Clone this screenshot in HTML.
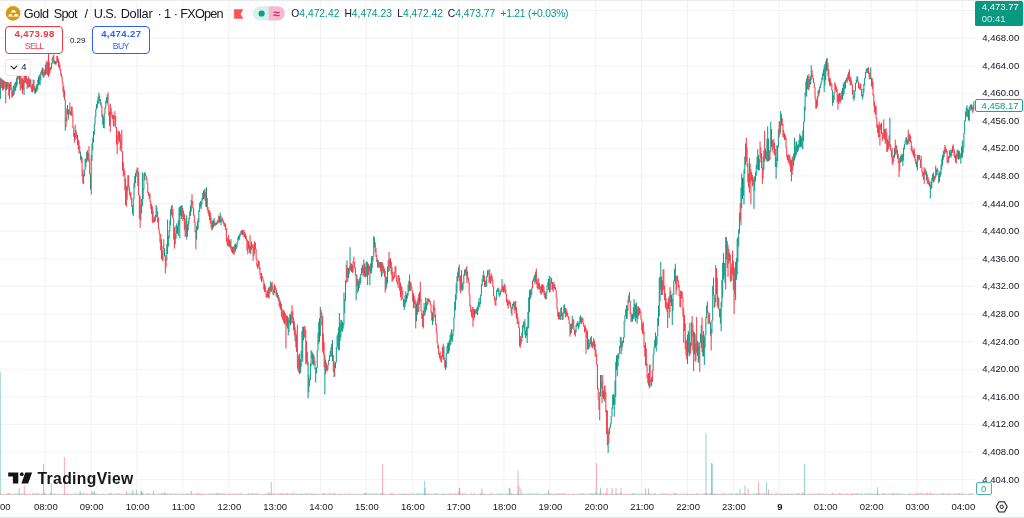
<!DOCTYPE html>
<html lang="en"><head><meta charset="utf-8"><title>Gold Spot / U.S. Dollar</title>
<style>
html,body{margin:0;padding:0;background:#fff}
body{width:1024px;height:518px;position:relative;overflow:hidden;font-family:"Liberation Sans",Arial,sans-serif;color:#131722;-webkit-font-smoothing:antialiased}
.chart{position:absolute;left:0;top:0}
.abs{position:absolute;white-space:nowrap}
.pl{position:absolute;left:975px;width:44.2px;text-align:right;font-size:9.5px;line-height:12px;height:12px;white-space:nowrap}
.tl{position:absolute;top:500.6px;width:40px;text-align:center;font-size:9.5px;line-height:12px;white-space:nowrap}
.tl.b{font-weight:bold}
.edge-t{position:absolute;left:0;top:0;width:1024px;height:1px;background:#e9eaed}
.edge-b{position:absolute;left:0;top:517px;width:1024px;height:1px;background:#e4e5e9}
.title{position:absolute;left:0;top:4.6px;width:240px;height:18px;font-size:12.7px;line-height:18px;white-space:nowrap;word-spacing:0}
.title span{position:absolute;top:0}
.ohlc{top:7.4px;font-size:10.3px;line-height:14px}
.g{color:#089981}
.box{position:absolute;top:26.3px;height:25.9px;border:1.2px solid;border-radius:4px;background:#fff;text-align:center}
.box b{display:block;font-size:9.5px;line-height:10px;margin-top:2.2px;letter-spacing:.4px;text-indent:.4px}
.box span{display:block;font-size:8.7px;line-height:10px;margin-top:1.1px;letter-spacing:-.7px;text-indent:-.7px}
.sell{left:5.3px;width:56.2px;border-color:#f23645;color:#f23645}
.buy{left:92px;width:56.2px;border-color:#2962ff;color:#2962ff}
.spread{left:69.9px;top:34.6px;font-size:8px;line-height:11px}
.coll{position:absolute;left:5.3px;top:59.4px;width:23.7px;height:14.9px;border:1px solid #e6e8ec;border-radius:3px;background:rgba(255,255,255,.92)}
.coll span{position:absolute;left:14.9px;top:.9px;font-size:9.5px;line-height:12px}
.ptag{position:absolute;left:975.4px;top:.5px;width:48px;height:25px;background:#089981;border-radius:1.6px;color:#fff;font-size:9.5px;line-height:11.4px}
.ptag div{position:absolute;left:6.4px}
.ltag{position:absolute;left:975.3px;top:98.9px;width:45.9px;height:11px;border:1.4px solid #1ea28b;border-radius:2px;background:#fff;color:#089981;font-size:9.5px;line-height:11px}
.ltag div{position:absolute;left:5.3px;top:0}
.vtag{position:absolute;left:975.6px;top:481.8px;width:14.2px;height:10.8px;border:1.2px solid #4db6a6;border-radius:2px;background:#fff;color:#26a69a;font-size:9.5px;line-height:11.6px;text-align:center}
.tv{left:37.5px;top:469px;font-size:15.7px;line-height:20px;font-weight:bold;color:#171717;letter-spacing:.36px}
#wrap{position:absolute;left:0;top:0;width:1024px;height:518px;overflow:hidden;filter:blur(.32px);background:#fff}
</style></head><body><div id="wrap">
<svg class="chart" width="1024" height="518" viewBox="0 0 1024 518">
<path d="M-0.68 0V494.3M45.19 0V494.3M91.07 0V494.3M136.94 0V494.3M182.82 0V494.3M228.70 0V494.3M274.57 0V494.3M320.45 0V494.3M366.32 0V494.3M412.20 0V494.3M458.08 0V494.3M503.95 0V494.3M549.83 0V494.3M595.70 0V494.3M641.58 0V494.3M687.46 0V494.3M733.33 0V494.3M779.21 0V494.3M825.08 0V494.3M870.96 0V494.3M916.84 0V494.3M962.71 0V494.3M0 10.51H974.5M0 38.10H974.5M0 65.69H974.5M0 93.28H974.5M0 120.87H974.5M0 148.46H974.5M0 176.05H974.5M0 203.64H974.5M0 231.23H974.5M0 258.82H974.5M0 286.41H974.5M0 314.00H974.5M0 341.59H974.5M0 369.18H974.5M0 396.77H974.5M0 424.36H974.5M0 451.95H974.5M0 479.54H974.5" stroke="#f3f3f4" stroke-width="1.1" fill="none"/>
<path d="M4.96 494.1V494.7M6.49 494.1V494.7M7.25 493.2V494.7M8.02 493.8V494.7M10.31 494.0V494.7M11.83 494.1V494.7M14.12 494.1V494.7M16.42 493.7V494.7M17.94 493.5V494.7M18.71 494.1V494.7M19.47 493.8V494.7M20.23 493.5V494.7M21.76 493.7V494.7M22.52 493.5V494.7M23.29 494.1V494.7M25.58 494.0V494.7M31.69 494.1V494.7M33.98 493.8V494.7M36.27 492.8V494.7M40.08 494.1V494.7M41.61 493.7V494.7M43.14 493.7V494.7M44.66 493.5V494.7M46.19 493.5V494.7M48.48 493.8V494.7M49.25 494.1V494.7M50.01 493.5V494.7M51.54 493.7V494.7M52.30 494.1V494.7M53.06 494.1V494.7M53.83 493.7V494.7M55.35 493.8V494.7M56.12 493.9V494.7M56.88 494.0V494.7M59.17 494.0V494.7M61.46 494.1V494.7M62.23 493.7V494.7M62.99 494.1V494.7M63.75 494.1V494.7M65.28 493.9V494.7M67.57 493.5V494.7M69.10 494.0V494.7M69.86 494.1V494.7M72.15 494.1V494.7M72.91 493.9V494.7M73.68 493.8V494.7M75.20 494.1V494.7M75.97 492.7V494.7M76.73 494.0V494.7M77.50 493.8V494.7M78.26 494.1V494.7M79.02 493.5V494.7M79.79 493.8V494.7M80.55 493.0V494.7M81.31 493.9V494.7M82.08 493.9V494.7M82.84 492.8V494.7M83.60 493.5V494.7M91.24 493.5V494.7M92.00 493.5V494.7M92.77 494.1V494.7M93.53 492.7V494.7M95.06 493.5V494.7M95.82 493.8V494.7M98.11 494.0V494.7M100.40 494.1V494.7M101.93 494.0V494.7M103.45 493.8V494.7M104.22 493.8V494.7M104.98 494.1V494.7M107.27 494.0V494.7M109.56 493.5V494.7M110.33 493.1V494.7M111.09 493.3V494.7M112.62 494.0V494.7M116.43 493.2V494.7M117.20 493.7V494.7M118.72 493.7V494.7M120.25 493.8V494.7M121.01 494.1V494.7M127.89 494.1V494.7M130.18 492.9V494.7M130.94 493.8V494.7M131.70 493.5V494.7M132.47 494.0V494.7M133.99 493.5V494.7M137.05 493.7V494.7M138.58 493.9V494.7M139.34 494.0V494.7M140.10 494.0V494.7M141.63 494.1V494.7M142.39 492.6V494.7M143.16 493.7V494.7M143.92 493.5V494.7M145.45 493.9V494.7M146.97 493.5V494.7M147.74 494.0V494.7M148.50 493.0V494.7M149.26 493.5V494.7M150.03 494.1V494.7M150.79 493.8V494.7M153.85 493.8V494.7M154.61 493.7V494.7M155.37 493.8V494.7M156.90 494.1V494.7M159.19 494.0V494.7M160.72 494.1V494.7M162.24 492.8V494.7M163.01 493.5V494.7M163.77 493.9V494.7M164.53 493.7V494.7M166.06 494.0V494.7M167.59 493.5V494.7M168.35 494.1V494.7M169.12 493.8V494.7M171.41 493.5V494.7M173.70 493.9V494.7M174.46 493.7V494.7M175.22 493.7V494.7M176.75 494.1V494.7M179.04 493.7V494.7M180.57 493.8V494.7M182.09 494.0V494.7M182.86 494.1V494.7M185.15 493.8V494.7M187.44 494.0V494.7M188.20 493.5V494.7M188.97 493.9V494.7M191.26 493.7V494.7M192.78 493.9V494.7M194.31 493.7V494.7M195.84 493.5V494.7M201.18 494.1V494.7M206.53 494.1V494.7M208.05 493.9V494.7M208.82 493.5V494.7M209.58 493.5V494.7M210.34 493.8V494.7M211.11 493.7V494.7M214.16 494.1V494.7M214.93 493.5V494.7M215.69 493.7V494.7M216.45 492.8V494.7M217.98 493.5V494.7M218.74 493.3V494.7M219.51 493.5V494.7M221.80 493.1V494.7M222.56 493.8V494.7M227.90 494.1V494.7M230.96 493.5V494.7M232.49 493.9V494.7M233.25 493.5V494.7M236.30 493.7V494.7M239.36 493.7V494.7M240.12 493.0V494.7M241.65 493.8V494.7M242.41 493.7V494.7M243.94 493.8V494.7M244.70 493.9V494.7M245.47 494.1V494.7M247.76 493.7V494.7M248.52 493.0V494.7M250.81 493.1V494.7M252.34 493.5V494.7M253.86 493.5V494.7M256.92 493.5V494.7M258.44 493.5V494.7M259.97 494.0V494.7M261.50 493.8V494.7M262.26 494.1V494.7M263.79 493.9V494.7M266.84 493.9V494.7M267.61 493.5V494.7M268.37 494.0V494.7M269.13 494.0V494.7M269.90 493.8V494.7M272.95 494.0V494.7M273.71 493.5V494.7M275.24 493.9V494.7M276.01 494.1V494.7M277.53 494.0V494.7M279.82 493.8V494.7M281.35 492.8V494.7M282.88 493.5V494.7M285.17 493.8V494.7M285.93 493.5V494.7M287.46 493.0V494.7M288.22 493.8V494.7M290.51 493.9V494.7M291.28 493.7V494.7M293.57 493.8V494.7M296.62 493.7V494.7M297.38 493.7V494.7M298.15 494.1V494.7M298.91 494.1V494.7M299.67 493.7V494.7M300.44 493.7V494.7M302.73 493.8V494.7M303.49 493.9V494.7M304.25 493.9V494.7M305.02 493.5V494.7M305.78 493.9V494.7M308.07 493.9V494.7M309.60 494.1V494.7M310.36 493.5V494.7M313.42 493.8V494.7M314.18 494.1V494.7M314.94 493.5V494.7M315.71 493.7V494.7M317.23 493.9V494.7M318.00 494.0V494.7M318.76 493.9V494.7M321.05 493.8V494.7M322.58 493.5V494.7M324.11 492.7V494.7M324.87 493.7V494.7M327.92 494.0V494.7M330.98 494.1V494.7M331.74 493.9V494.7M333.27 493.5V494.7M334.03 492.9V494.7M334.79 494.0V494.7M336.32 494.1V494.7M340.14 493.8V494.7M342.43 494.0V494.7M345.48 493.8V494.7M347.01 493.8V494.7M348.54 493.5V494.7M350.06 493.5V494.7M351.59 493.9V494.7M352.36 494.0V494.7M353.12 494.1V494.7M353.88 493.7V494.7M355.41 494.1V494.7M356.17 494.1V494.7M357.70 493.7V494.7M358.46 494.1V494.7M359.23 494.1V494.7M360.75 494.1V494.7M361.52 494.1V494.7M362.28 493.9V494.7M363.04 493.8V494.7M363.81 493.9V494.7M365.33 492.9V494.7M366.86 494.1V494.7M367.63 494.1V494.7M368.39 493.5V494.7M369.92 493.5V494.7M370.68 493.8V494.7M371.44 493.8V494.7M372.97 493.1V494.7M373.73 494.0V494.7M374.50 493.8V494.7M376.02 492.7V494.7M376.79 493.8V494.7M379.08 493.8V494.7M379.84 493.8V494.7M380.60 493.5V494.7M382.13 494.1V494.7M382.90 494.1V494.7M383.66 493.2V494.7M385.19 493.8V494.7M388.24 493.8V494.7M389.00 494.0V494.7M391.29 493.7V494.7M393.58 493.9V494.7M395.87 494.1V494.7M396.64 494.0V494.7M399.69 493.9V494.7M400.46 493.9V494.7M401.98 493.5V494.7M405.04 493.5V494.7M405.80 493.9V494.7M408.09 493.9V494.7M409.62 493.9V494.7M411.91 493.8V494.7M412.67 493.5V494.7M413.44 493.9V494.7M414.20 494.0V494.7M414.96 494.1V494.7M416.49 493.9V494.7M418.02 493.1V494.7M418.78 493.5V494.7M419.54 493.9V494.7M420.31 493.5V494.7M421.83 494.1V494.7M422.60 494.0V494.7M424.12 493.7V494.7M424.89 493.7V494.7M425.65 494.0V494.7M427.18 494.0V494.7M428.71 493.7V494.7M430.23 493.9V494.7M431.76 493.8V494.7M434.81 493.5V494.7M435.58 493.3V494.7M436.34 494.1V494.7M437.10 493.3V494.7M437.87 493.8V494.7M438.63 493.7V494.7M440.16 493.9V494.7M442.45 493.9V494.7M443.21 493.5V494.7M444.74 494.0V494.7M445.50 493.9V494.7M446.27 493.9V494.7M447.03 493.5V494.7M447.79 493.9V494.7M448.56 493.5V494.7M450.08 493.8V494.7M455.43 493.7V494.7M456.19 493.7V494.7M460.01 493.9V494.7M461.54 494.1V494.7M463.06 492.8V494.7M466.12 493.7V494.7M467.64 494.1V494.7M468.41 494.1V494.7M469.17 494.1V494.7M469.93 493.9V494.7M472.99 494.0V494.7M473.75 492.9V494.7M474.52 494.0V494.7M477.57 494.0V494.7M478.33 494.1V494.7M479.10 493.9V494.7M479.86 493.8V494.7M481.39 493.8V494.7M483.68 494.0V494.7M485.97 493.9V494.7M486.73 493.9V494.7M487.49 494.0V494.7M488.26 493.9V494.7M491.31 493.5V494.7M492.84 494.1V494.7M493.60 494.0V494.7M494.37 493.8V494.7M495.89 494.0V494.7M497.42 494.1V494.7M498.18 493.2V494.7M498.95 493.7V494.7M500.47 493.7V494.7M501.24 494.1V494.7M502.00 493.5V494.7M503.53 494.1V494.7M504.29 494.1V494.7M505.06 493.9V494.7M505.82 493.8V494.7M506.58 493.8V494.7M507.35 493.5V494.7M508.11 494.1V494.7M509.64 494.0V494.7M510.40 493.8V494.7M511.16 493.1V494.7M513.45 493.8V494.7M514.22 493.8V494.7M514.98 494.0V494.7M516.51 494.1V494.7M518.03 493.5V494.7M518.80 494.0V494.7M519.56 493.9V494.7M520.33 494.0V494.7M522.62 494.0V494.7M523.38 493.5V494.7M524.14 493.9V494.7M524.91 494.0V494.7M527.20 493.7V494.7M528.72 493.8V494.7M529.49 493.1V494.7M530.25 494.0V494.7M531.01 493.8V494.7M532.54 493.5V494.7M533.30 494.0V494.7M534.07 493.7V494.7M534.83 493.7V494.7M536.36 493.7V494.7M537.12 493.7V494.7M538.65 494.1V494.7M539.41 493.8V494.7M540.94 493.8V494.7M541.70 493.7V494.7M543.23 494.1V494.7M543.99 493.8V494.7M546.28 493.5V494.7M547.05 494.1V494.7M547.81 493.5V494.7M549.34 493.7V494.7M550.10 493.7V494.7M551.63 493.7V494.7M552.39 494.1V494.7M557.74 493.7V494.7M558.50 493.5V494.7M564.61 493.5V494.7M566.90 493.7V494.7M569.95 493.9V494.7M571.48 494.0V494.7M572.24 493.7V494.7M573.77 493.7V494.7M575.30 494.1V494.7M576.82 493.8V494.7M578.35 494.0V494.7M579.11 493.7V494.7M580.64 493.8V494.7M583.70 493.5V494.7M584.46 493.8V494.7M585.22 493.9V494.7M588.28 493.9V494.7M589.04 493.7V494.7M590.57 493.2V494.7M591.33 493.7V494.7M592.09 493.7V494.7M592.86 493.7V494.7M594.38 494.0V494.7M595.15 493.5V494.7M595.91 492.6V494.7M597.44 494.1V494.7M598.20 493.8V494.7M598.97 493.5V494.7M600.49 493.7V494.7M601.26 493.5V494.7M603.55 493.2V494.7M608.89 494.1V494.7M609.65 493.5V494.7M610.42 494.1V494.7M611.18 493.9V494.7M613.47 494.0V494.7M614.24 494.1V494.7M615.00 493.7V494.7M617.29 493.8V494.7M618.82 493.5V494.7M619.58 493.7V494.7M620.34 493.5V494.7M621.11 493.5V494.7M622.63 493.9V494.7M625.69 494.1V494.7M627.22 493.8V494.7M629.51 494.1V494.7M631.03 493.5V494.7M631.80 494.0V494.7M632.56 493.0V494.7M634.09 494.1V494.7M634.85 492.8V494.7M635.61 493.9V494.7M637.90 494.0V494.7M638.67 493.5V494.7M639.43 493.8V494.7M640.19 493.7V494.7M641.72 493.5V494.7M643.25 493.9V494.7M644.01 493.5V494.7M644.78 494.0V494.7M647.07 493.5V494.7M649.36 493.8V494.7M650.88 493.7V494.7M651.65 493.8V494.7M653.17 493.9V494.7M656.23 493.9V494.7M658.52 494.1V494.7M659.28 493.9V494.7M661.57 493.7V494.7M662.34 493.8V494.7M663.10 493.7V494.7M664.63 494.1V494.7M669.21 494.0V494.7M671.50 494.1V494.7M673.79 493.5V494.7M675.32 493.9V494.7M676.08 492.8V494.7M676.84 493.7V494.7M677.61 494.0V494.7M679.13 493.9V494.7M679.90 493.7V494.7M681.42 493.8V494.7M682.19 493.5V494.7M682.95 493.7V494.7M683.71 494.1V494.7M685.24 493.5V494.7M686.00 494.0V494.7M690.59 493.7V494.7M691.35 493.7V494.7M692.11 493.9V494.7M693.64 493.9V494.7M694.40 494.0V494.7M698.98 494.0V494.7M700.51 494.1V494.7M701.27 493.9V494.7M702.04 493.9V494.7M705.86 493.1V494.7M706.62 493.5V494.7M708.15 493.7V494.7M711.20 493.7V494.7M711.96 493.5V494.7M714.25 493.5V494.7M715.02 493.9V494.7M715.78 493.5V494.7M716.54 494.0V494.7M717.31 493.8V494.7M718.84 493.9V494.7M724.18 493.8V494.7M725.71 493.8V494.7M726.47 494.1V494.7M727.23 493.8V494.7M729.52 494.0V494.7M730.29 493.9V494.7M731.05 493.1V494.7M732.58 494.0V494.7M734.11 493.5V494.7M736.40 493.5V494.7M737.16 493.7V494.7M738.69 493.9V494.7M739.45 494.1V494.7M740.98 493.8V494.7M743.27 494.0V494.7M745.56 493.7V494.7M746.32 494.0V494.7M747.08 494.0V494.7M748.61 494.0V494.7M749.38 494.1V494.7M751.67 494.1V494.7M752.43 493.8V494.7M753.96 493.8V494.7M754.72 494.1V494.7M755.48 493.7V494.7M757.01 493.2V494.7M757.77 493.9V494.7M758.54 494.0V494.7M760.06 493.5V494.7M762.35 494.0V494.7M763.88 493.3V494.7M766.17 493.7V494.7M768.46 494.1V494.7M769.23 493.8V494.7M769.99 493.7V494.7M770.75 493.8V494.7M771.52 493.7V494.7M772.28 493.5V494.7M776.10 492.7V494.7M776.86 493.8V494.7M777.62 493.8V494.7M779.15 493.9V494.7M781.44 494.0V494.7M782.97 493.7V494.7M783.73 494.1V494.7M785.26 494.0V494.7M786.02 493.9V494.7M788.31 493.7V494.7M789.08 493.7V494.7M789.84 494.1V494.7M790.60 494.0V494.7M791.37 493.7V494.7M794.42 493.7V494.7M795.95 494.0V494.7M797.48 493.3V494.7M798.24 493.5V494.7M802.82 492.8V494.7M803.58 493.5V494.7M804.35 493.9V494.7M808.93 494.1V494.7M809.69 493.7V494.7M810.46 493.8V494.7M812.75 494.1V494.7M813.51 493.7V494.7M815.80 493.9V494.7M817.33 493.7V494.7M818.09 493.5V494.7M818.85 493.2V494.7M821.14 494.0V494.7M821.91 493.7V494.7M822.67 493.5V494.7M823.43 494.0V494.7M825.73 494.0V494.7M828.78 494.0V494.7M829.54 493.8V494.7M831.07 493.8V494.7M831.83 493.7V494.7M835.65 493.8V494.7M837.18 493.9V494.7M840.23 493.9V494.7M841.00 493.5V494.7M843.29 493.9V494.7M845.58 493.8V494.7M846.34 493.7V494.7M850.16 494.0V494.7M853.21 493.7V494.7M853.97 493.9V494.7M856.27 493.4V494.7M857.03 493.7V494.7M860.08 494.1V494.7M860.85 493.8V494.7M861.61 492.9V494.7M862.37 494.1V494.7M863.14 494.0V494.7M863.90 494.1V494.7M866.19 493.5V494.7M866.95 493.8V494.7M868.48 492.9V494.7M869.24 494.0V494.7M870.01 493.9V494.7M870.77 493.8V494.7M871.54 493.7V494.7M873.06 494.0V494.7M873.83 493.9V494.7M874.59 493.7V494.7M877.64 493.3V494.7M878.41 493.9V494.7M879.17 493.9V494.7M879.93 493.9V494.7M881.46 494.1V494.7M882.22 493.1V494.7M882.99 494.1V494.7M884.51 494.1V494.7M887.57 494.1V494.7M888.33 493.9V494.7M889.10 493.7V494.7M890.62 493.9V494.7M891.39 493.9V494.7M894.44 493.7V494.7M896.73 494.0V494.7M898.26 493.8V494.7M899.02 493.7V494.7M899.78 493.5V494.7M900.55 494.0V494.7M903.60 494.1V494.7M904.37 493.7V494.7M905.89 494.0V494.7M906.66 494.1V494.7M908.95 493.8V494.7M909.71 493.5V494.7M910.47 493.8V494.7M915.82 493.0V494.7M919.64 494.0V494.7M920.40 493.3V494.7M921.16 493.5V494.7M921.93 492.7V494.7M922.69 493.7V494.7M925.74 493.7V494.7M928.03 494.1V494.7M931.85 493.5V494.7M933.38 493.5V494.7M934.14 493.7V494.7M934.91 493.9V494.7M937.20 493.5V494.7M938.72 494.1V494.7M940.25 494.0V494.7M941.01 493.5V494.7M941.78 493.7V494.7M945.59 494.1V494.7M947.12 493.5V494.7M947.89 494.0V494.7M948.65 493.5V494.7M949.41 493.2V494.7M950.94 493.7V494.7M951.70 494.1V494.7M953.99 493.5V494.7M954.76 493.7V494.7M955.52 493.8V494.7M957.05 494.0V494.7M958.57 494.0V494.7M960.10 493.7V494.7M962.39 493.5V494.7M963.16 493.8V494.7M963.92 493.9V494.7M965.45 493.9V494.7M966.21 493.9V494.7M968.50 493.8V494.7M970.03 493.7V494.7M970.79 493.4V494.7M973.84 493.9V494.7M0.30 371.6V494.7M19.20 488.0V494.7M43.60 463.9V494.7M51.30 483.4V494.7M92.00 491.0V494.7M94.50 491.3V494.7M126.80 490.8V494.7M132.80 490.0V494.7M136.30 490.0V494.7M141.80 491.0V494.7M153.50 491.0V494.7M191.30 490.8V494.7M271.30 482.0V494.7M424.40 481.0V494.7M425.30 488.0V494.7M459.20 488.0V494.7M481.80 488.4V494.7M509.90 487.7V494.7M521.00 488.4V494.7M548.60 490.0V494.7M600.50 487.7V494.7M648.60 488.4V494.7M706.00 432.9V494.7M712.30 463.5V494.7M740.00 489.0V494.7M745.00 485.6V494.7M766.60 481.7V494.7M804.50 463.7V494.7" stroke="#089981" stroke-opacity=".5" stroke-width=".85" fill="none"/>
<path d="M0.38 494.1V494.7M1.15 493.5V494.7M1.91 494.0V494.7M2.67 493.8V494.7M3.44 493.8V494.7M4.20 494.0V494.7M5.73 494.0V494.7M8.78 493.2V494.7M9.54 492.9V494.7M11.07 494.1V494.7M12.60 494.0V494.7M13.36 493.7V494.7M14.89 493.5V494.7M15.65 493.7V494.7M17.18 493.7V494.7M21.00 494.1V494.7M24.05 493.9V494.7M24.81 493.7V494.7M26.34 494.1V494.7M27.10 494.0V494.7M27.87 493.8V494.7M28.63 494.0V494.7M29.39 494.1V494.7M30.16 493.5V494.7M30.92 494.0V494.7M32.45 493.0V494.7M33.21 493.9V494.7M34.74 493.5V494.7M35.50 493.7V494.7M37.03 493.8V494.7M37.79 493.7V494.7M38.56 493.1V494.7M39.32 493.9V494.7M40.85 493.8V494.7M42.37 494.0V494.7M43.90 492.7V494.7M45.43 493.9V494.7M46.96 494.0V494.7M47.72 494.0V494.7M50.77 492.9V494.7M54.59 493.7V494.7M57.64 494.1V494.7M58.41 493.9V494.7M59.93 493.9V494.7M60.70 494.1V494.7M64.52 493.7V494.7M66.04 494.0V494.7M66.81 493.7V494.7M68.33 493.7V494.7M70.62 494.0V494.7M71.39 494.0V494.7M74.44 493.7V494.7M84.37 493.5V494.7M85.13 493.5V494.7M85.89 494.0V494.7M86.66 493.7V494.7M87.42 493.5V494.7M88.18 494.0V494.7M88.95 494.0V494.7M89.71 493.9V494.7M90.47 493.9V494.7M94.29 494.0V494.7M96.58 493.7V494.7M97.35 493.5V494.7M98.87 493.9V494.7M99.64 494.0V494.7M101.16 493.5V494.7M102.69 494.0V494.7M105.74 494.0V494.7M106.51 493.9V494.7M108.04 493.8V494.7M108.80 493.7V494.7M111.85 493.9V494.7M113.38 493.9V494.7M114.14 493.7V494.7M114.91 493.8V494.7M115.67 493.9V494.7M117.96 493.9V494.7M119.49 493.5V494.7M121.78 493.5V494.7M122.54 493.8V494.7M123.31 494.0V494.7M124.07 494.0V494.7M124.83 494.0V494.7M125.60 493.5V494.7M126.36 493.8V494.7M127.12 494.0V494.7M128.65 493.8V494.7M129.41 493.8V494.7M133.23 493.5V494.7M134.76 493.7V494.7M135.52 493.9V494.7M136.28 494.1V494.7M137.81 493.7V494.7M140.87 493.5V494.7M144.68 494.1V494.7M146.21 493.5V494.7M151.55 494.0V494.7M152.32 493.8V494.7M153.08 494.1V494.7M156.14 493.8V494.7M157.66 494.0V494.7M158.43 493.5V494.7M159.95 493.5V494.7M161.48 493.5V494.7M165.30 493.5V494.7M166.82 493.5V494.7M169.88 493.5V494.7M170.64 493.8V494.7M172.17 493.5V494.7M172.93 494.1V494.7M175.99 493.5V494.7M177.51 493.5V494.7M178.28 493.9V494.7M179.80 494.0V494.7M181.33 493.8V494.7M183.62 493.5V494.7M184.39 494.0V494.7M185.91 494.0V494.7M186.68 493.0V494.7M189.73 493.9V494.7M190.49 494.1V494.7M192.02 493.9V494.7M193.55 493.9V494.7M195.07 494.1V494.7M196.60 493.7V494.7M197.36 493.5V494.7M198.13 492.8V494.7M198.89 493.9V494.7M199.66 493.8V494.7M200.42 493.7V494.7M201.95 493.9V494.7M202.71 493.5V494.7M203.47 494.1V494.7M204.24 493.8V494.7M205.00 493.8V494.7M205.76 494.0V494.7M207.29 494.1V494.7M211.87 493.5V494.7M212.63 493.9V494.7M213.40 493.7V494.7M217.22 493.4V494.7M220.27 493.5V494.7M221.03 493.9V494.7M223.32 493.9V494.7M224.09 493.0V494.7M224.85 494.0V494.7M225.61 493.7V494.7M226.38 494.1V494.7M227.14 494.1V494.7M228.67 493.7V494.7M229.43 493.5V494.7M230.20 494.0V494.7M231.72 494.0V494.7M234.01 494.1V494.7M234.78 493.3V494.7M235.54 494.0V494.7M237.07 493.7V494.7M237.83 493.8V494.7M238.59 493.9V494.7M240.88 493.7V494.7M243.17 494.0V494.7M246.23 494.1V494.7M246.99 493.8V494.7M249.28 494.0V494.7M250.05 493.9V494.7M251.57 493.9V494.7M253.10 493.7V494.7M254.63 493.5V494.7M255.39 493.8V494.7M256.15 493.5V494.7M257.68 493.8V494.7M259.21 494.0V494.7M260.74 494.1V494.7M263.03 493.9V494.7M264.55 493.7V494.7M265.32 493.9V494.7M266.08 493.5V494.7M270.66 493.5V494.7M271.42 494.0V494.7M272.19 493.3V494.7M274.48 493.5V494.7M276.77 493.5V494.7M278.30 493.9V494.7M279.06 493.1V494.7M280.59 493.8V494.7M282.11 494.0V494.7M283.64 493.5V494.7M284.40 493.7V494.7M286.69 494.0V494.7M288.98 493.7V494.7M289.75 493.7V494.7M292.04 493.9V494.7M292.80 492.7V494.7M294.33 493.2V494.7M295.09 494.1V494.7M295.86 493.9V494.7M301.20 493.3V494.7M301.96 493.9V494.7M306.55 493.7V494.7M307.31 493.1V494.7M308.84 493.8V494.7M311.13 493.7V494.7M311.89 493.1V494.7M312.65 493.9V494.7M316.47 494.1V494.7M319.52 494.0V494.7M320.29 494.1V494.7M321.82 493.8V494.7M323.34 493.8V494.7M325.63 494.0V494.7M326.40 493.9V494.7M327.16 493.8V494.7M328.69 493.8V494.7M329.45 493.3V494.7M330.21 493.1V494.7M332.50 493.5V494.7M335.56 493.2V494.7M337.09 493.7V494.7M337.85 494.0V494.7M338.61 494.1V494.7M339.38 493.5V494.7M340.90 493.7V494.7M341.67 493.9V494.7M343.19 494.0V494.7M343.96 494.0V494.7M344.72 493.5V494.7M346.25 494.1V494.7M347.77 493.9V494.7M349.30 494.1V494.7M350.83 493.9V494.7M354.65 493.8V494.7M356.94 494.0V494.7M359.99 494.1V494.7M364.57 493.3V494.7M366.10 492.8V494.7M369.15 494.0V494.7M372.21 493.7V494.7M375.26 494.1V494.7M377.55 493.8V494.7M378.31 494.1V494.7M381.37 492.8V494.7M384.42 493.8V494.7M385.95 494.1V494.7M386.71 494.0V494.7M387.48 493.9V494.7M389.77 493.9V494.7M390.53 493.5V494.7M392.06 492.8V494.7M392.82 493.9V494.7M394.35 493.7V494.7M395.11 493.9V494.7M397.40 494.1V494.7M398.17 493.9V494.7M398.93 493.7V494.7M401.22 494.0V494.7M402.75 493.9V494.7M403.51 494.0V494.7M404.27 493.5V494.7M406.56 493.7V494.7M407.33 493.9V494.7M408.85 493.5V494.7M410.38 494.1V494.7M411.14 493.8V494.7M415.73 493.9V494.7M417.25 493.7V494.7M421.07 493.5V494.7M423.36 493.7V494.7M426.41 493.8V494.7M427.94 493.2V494.7M429.47 493.7V494.7M431.00 493.8V494.7M432.52 494.0V494.7M433.29 493.7V494.7M434.05 494.1V494.7M439.39 494.1V494.7M440.92 494.0V494.7M441.68 493.9V494.7M443.98 493.5V494.7M449.32 493.9V494.7M450.85 492.9V494.7M451.61 493.8V494.7M452.37 494.1V494.7M453.14 493.9V494.7M453.90 493.5V494.7M454.66 493.7V494.7M456.95 493.9V494.7M457.72 493.7V494.7M458.48 492.7V494.7M459.25 493.9V494.7M460.77 494.0V494.7M462.30 493.7V494.7M463.83 494.0V494.7M464.59 493.4V494.7M465.35 494.1V494.7M466.88 493.9V494.7M470.70 494.1V494.7M471.46 493.0V494.7M472.22 494.1V494.7M475.28 493.8V494.7M476.04 494.0V494.7M476.81 493.9V494.7M480.62 493.5V494.7M482.15 493.5V494.7M482.91 493.3V494.7M484.44 494.0V494.7M485.20 493.7V494.7M489.02 493.7V494.7M489.79 494.0V494.7M490.55 493.5V494.7M492.08 493.5V494.7M495.13 494.0V494.7M496.66 493.8V494.7M499.71 493.9V494.7M502.76 493.9V494.7M508.87 493.8V494.7M511.93 493.7V494.7M512.69 493.7V494.7M515.74 494.0V494.7M517.27 493.8V494.7M521.09 494.1V494.7M521.85 493.8V494.7M525.67 494.1V494.7M526.43 493.5V494.7M527.96 493.8V494.7M531.78 493.9V494.7M535.60 493.9V494.7M537.89 493.2V494.7M540.18 494.1V494.7M542.47 494.1V494.7M544.76 493.9V494.7M545.52 493.5V494.7M548.57 493.9V494.7M550.87 493.5V494.7M553.16 493.9V494.7M553.92 493.8V494.7M554.68 493.7V494.7M555.45 493.8V494.7M556.21 493.7V494.7M556.97 493.7V494.7M559.26 493.7V494.7M560.03 494.0V494.7M560.79 493.5V494.7M561.55 493.5V494.7M562.32 494.1V494.7M563.08 493.1V494.7M563.84 493.5V494.7M565.37 493.8V494.7M566.14 494.0V494.7M567.66 494.0V494.7M568.43 493.7V494.7M569.19 493.9V494.7M570.72 494.0V494.7M573.01 494.1V494.7M574.53 493.9V494.7M576.06 494.1V494.7M577.59 493.8V494.7M579.88 493.7V494.7M581.41 493.1V494.7M582.17 494.1V494.7M582.93 493.5V494.7M585.99 494.1V494.7M586.75 493.5V494.7M587.51 494.0V494.7M589.80 493.5V494.7M593.62 493.5V494.7M596.68 493.5V494.7M599.73 493.1V494.7M602.02 493.5V494.7M602.78 494.1V494.7M604.31 494.1V494.7M605.07 493.8V494.7M605.84 492.7V494.7M606.60 494.1V494.7M607.36 493.8V494.7M608.13 493.7V494.7M611.95 493.5V494.7M612.71 494.1V494.7M615.76 494.0V494.7M616.53 493.7V494.7M618.05 493.5V494.7M621.87 494.1V494.7M623.40 494.0V494.7M624.16 493.7V494.7M624.92 494.0V494.7M626.45 493.8V494.7M627.98 493.9V494.7M628.74 493.9V494.7M630.27 493.8V494.7M633.32 493.8V494.7M636.38 493.8V494.7M637.14 493.9V494.7M640.96 493.9V494.7M642.49 494.0V494.7M645.54 493.8V494.7M646.30 494.1V494.7M647.83 493.8V494.7M648.59 493.8V494.7M650.12 493.8V494.7M652.41 493.9V494.7M653.94 493.5V494.7M654.70 493.7V494.7M655.46 493.0V494.7M656.99 494.0V494.7M657.76 494.0V494.7M660.05 493.5V494.7M660.81 493.8V494.7M663.86 493.3V494.7M665.39 493.4V494.7M666.15 493.9V494.7M666.92 493.8V494.7M667.68 493.8V494.7M668.44 493.5V494.7M669.97 493.9V494.7M670.73 493.8V494.7M672.26 494.1V494.7M673.03 493.8V494.7M674.55 492.9V494.7M678.37 494.1V494.7M680.66 494.0V494.7M684.48 494.1V494.7M686.77 494.0V494.7M687.53 493.5V494.7M688.30 494.0V494.7M689.06 493.8V494.7M689.82 493.9V494.7M692.88 493.8V494.7M695.17 493.9V494.7M695.93 493.9V494.7M696.69 493.1V494.7M697.46 494.1V494.7M698.22 493.5V494.7M699.75 493.7V494.7M702.80 494.0V494.7M703.57 493.5V494.7M704.33 493.9V494.7M705.09 493.5V494.7M707.38 493.8V494.7M708.91 493.9V494.7M709.67 493.5V494.7M710.44 493.2V494.7M712.73 493.9V494.7M713.49 493.9V494.7M718.07 493.7V494.7M719.60 493.9V494.7M720.36 493.9V494.7M721.13 493.9V494.7M721.89 494.0V494.7M722.65 493.5V494.7M723.42 493.5V494.7M724.94 493.5V494.7M728.00 494.0V494.7M728.76 493.7V494.7M731.81 493.1V494.7M733.34 494.1V494.7M734.87 493.9V494.7M735.63 493.7V494.7M737.92 493.1V494.7M740.21 494.0V494.7M741.74 494.1V494.7M742.50 493.5V494.7M744.03 493.0V494.7M744.79 493.9V494.7M747.85 493.5V494.7M750.14 493.7V494.7M750.90 493.7V494.7M753.19 493.8V494.7M756.25 493.7V494.7M759.30 493.0V494.7M760.83 493.5V494.7M761.59 493.5V494.7M763.12 494.0V494.7M764.65 493.5V494.7M765.41 493.7V494.7M766.94 494.1V494.7M767.70 493.8V494.7M773.04 494.0V494.7M773.81 494.0V494.7M774.57 494.1V494.7M775.33 493.8V494.7M778.39 494.0V494.7M779.92 493.5V494.7M780.68 494.0V494.7M782.21 493.5V494.7M784.50 493.5V494.7M786.79 494.0V494.7M787.55 493.5V494.7M792.13 493.2V494.7M792.89 493.8V494.7M793.66 493.9V494.7M795.19 494.0V494.7M796.71 493.8V494.7M799.00 493.0V494.7M799.77 493.9V494.7M800.53 493.9V494.7M801.29 493.7V494.7M802.06 494.0V494.7M805.11 493.9V494.7M805.87 494.0V494.7M806.64 493.9V494.7M807.40 494.1V494.7M808.16 493.5V494.7M811.22 493.7V494.7M811.98 494.1V494.7M814.27 494.0V494.7M815.04 493.7V494.7M816.56 494.0V494.7M819.62 493.5V494.7M820.38 493.7V494.7M824.20 494.1V494.7M824.96 494.1V494.7M826.49 493.5V494.7M827.25 494.0V494.7M828.02 494.0V494.7M830.31 494.0V494.7M832.60 492.7V494.7M833.36 493.7V494.7M834.12 494.1V494.7M834.89 494.0V494.7M836.41 494.0V494.7M837.94 493.9V494.7M838.70 493.9V494.7M839.47 493.0V494.7M841.76 493.5V494.7M842.52 493.9V494.7M844.05 494.1V494.7M844.81 494.1V494.7M847.10 493.3V494.7M847.87 494.0V494.7M848.63 494.0V494.7M849.39 493.7V494.7M850.92 494.0V494.7M851.68 493.1V494.7M852.45 493.7V494.7M854.74 494.0V494.7M855.50 493.5V494.7M857.79 493.5V494.7M858.56 493.4V494.7M859.32 493.8V494.7M864.66 493.7V494.7M865.43 493.7V494.7M867.72 494.0V494.7M872.30 493.5V494.7M875.35 493.7V494.7M876.12 493.8V494.7M876.88 493.9V494.7M880.70 494.1V494.7M883.75 493.0V494.7M885.28 493.5V494.7M886.04 493.7V494.7M886.81 493.8V494.7M889.86 493.7V494.7M892.15 492.8V494.7M892.91 493.8V494.7M893.68 492.7V494.7M895.20 493.8V494.7M895.97 493.8V494.7M897.49 493.0V494.7M901.31 493.7V494.7M902.08 494.0V494.7M902.84 493.4V494.7M905.13 494.1V494.7M907.42 493.8V494.7M908.18 493.8V494.7M911.24 493.5V494.7M912.00 494.1V494.7M912.76 493.8V494.7M913.53 494.0V494.7M914.29 494.0V494.7M915.05 494.1V494.7M916.58 493.5V494.7M917.35 493.8V494.7M918.11 493.1V494.7M918.87 493.5V494.7M923.45 494.1V494.7M924.22 493.3V494.7M924.98 493.9V494.7M926.51 493.2V494.7M927.27 492.6V494.7M928.80 493.7V494.7M929.56 493.4V494.7M930.32 492.7V494.7M931.09 494.1V494.7M932.62 494.0V494.7M935.67 494.1V494.7M936.43 494.1V494.7M937.96 494.1V494.7M939.49 493.7V494.7M942.54 493.7V494.7M943.30 492.8V494.7M944.07 493.3V494.7M944.83 493.9V494.7M946.36 493.7V494.7M950.18 493.8V494.7M952.47 494.1V494.7M953.23 493.5V494.7M956.28 493.5V494.7M957.81 493.0V494.7M959.34 492.9V494.7M960.86 493.7V494.7M961.63 494.1V494.7M964.68 494.1V494.7M966.97 493.9V494.7M967.74 494.1V494.7M969.26 493.8V494.7M971.55 494.0V494.7M972.32 493.8V494.7M973.08 494.0V494.7M24.30 485.7V494.7M64.40 457.0V494.7M80.10 490.8V494.7M141.00 491.0V494.7M164.80 492.0V494.7M269.00 492.0V494.7M382.60 464.2V494.7M459.90 487.7V494.7M509.20 488.0V494.7M518.00 470.5V494.7M518.80 486.0V494.7M596.60 463.4V494.7M607.00 488.0V494.7M612.00 488.0V494.7M616.00 488.0V494.7M621.00 488.0V494.7M645.50 488.4V494.7M711.50 463.0V494.7M748.20 488.5V494.7M758.40 481.7V494.7M768.50 489.5V494.7M877.50 487.2V494.7" stroke="#f23645" stroke-opacity=".5" stroke-width=".85" fill="none"/>
<path d="M0.38 77.8V98.9M1.91 79.1V88.6M6.49 82.0V90.1M7.25 82.0V89.0M9.54 84.0V99.4M11.07 81.9V88.2M11.83 87.6V97.8M13.36 85.5V95.7M14.12 86.2V94.7M14.89 83.0V91.5M15.65 81.7V90.8M16.42 78.0V87.3M17.18 75.3V85.2M17.94 75.0V78.9M19.47 75.1V84.3M21.00 76.1V89.8M23.29 79.6V89.7M24.05 75.0V95.0M25.58 75.5V82.5M27.87 78.7V87.7M30.16 78.6V86.4M33.21 79.4V90.6M34.74 86.2V93.8M35.50 88.2V93.3M36.27 85.0V92.2M37.03 84.0V91.2M37.79 79.6V89.3M38.56 76.7V85.2M39.32 74.8V84.5M40.08 74.4V85.4M40.85 71.7V80.4M42.37 67.4V75.2M43.90 71.9V77.6M46.19 62.4V74.4M47.72 62.1V75.4M50.77 67.0V70.6M51.54 63.0V68.9M52.30 57.6V63.6M54.59 60.7V64.2M56.12 61.4V64.6M65.28 99.3V130.9M67.57 104.9V114.7M68.33 109.3V119.6M69.10 109.7V114.6M75.97 129.8V136.9M80.55 151.6V159.7M83.60 174.1V184.0M84.37 169.3V176.3M85.13 158.6V169.9M85.89 158.9V167.2M86.66 151.8V162.3M90.47 173.6V189.5M92.00 143.3V160.9M92.77 137.7V150.7M93.53 131.1V142.4M94.29 124.1V135.1M95.06 116.4V124.7M95.82 108.8V117.0M96.58 104.1V109.5M97.35 100.3V108.1M98.11 96.5V103.9M98.87 92.6V103.3M100.40 99.0V105.0M102.69 114.4V124.6M103.45 116.5V128.0M104.22 113.3V128.4M104.98 107.2V113.9M105.74 101.0V108.3M106.51 97.2V102.6M107.27 94.5V103.5M111.09 107.7V114.2M127.12 185.6V199.8M127.89 175.0V190.9M132.47 205.2V213.9M133.23 198.3V216.2M133.99 182.5V198.9M134.76 175.8V187.9M135.52 173.1V183.2M136.28 170.4V176.8M140.87 204.9V220.7M141.63 198.8V213.4M142.39 172.3V206.0M143.16 188.2V199.0M143.92 173.7V189.6M144.68 172.0V180.4M155.37 215.0V221.1M156.14 205.0V216.9M156.90 207.0V217.4M164.53 248.2V256.4M166.82 244.1V260.7M167.59 219.6V254.1M168.35 235.5V246.5M169.12 230.2V238.8M169.88 220.2V231.2M170.64 209.2V225.2M171.41 205.8V215.0M175.22 233.3V244.1M175.99 225.3V238.9M176.75 223.3V233.7M177.51 225.9V233.6M178.28 220.3V236.1M179.04 207.4V225.9M179.80 206.8V238.2M180.57 206.1V215.6M181.33 205.5V219.2M182.09 205.3V216.5M186.68 215.3V239.6M187.44 224.2V236.5M188.20 220.7V230.4M188.97 217.7V224.3M190.49 205.5V216.0M191.26 199.8V211.6M196.60 226.0V239.7M197.36 221.3V230.3M198.13 218.3V229.2M198.89 210.0V222.2M199.66 202.8V211.8M200.42 201.1V207.3M201.18 202.0V209.2M201.95 198.3V204.7M202.71 192.9V200.5M203.47 190.5V199.1M204.24 189.6V198.2M206.53 187.1V207.1M212.63 220.5V229.4M213.40 220.0V227.5M214.16 218.0V226.0M216.45 222.5V224.8M217.98 219.5V223.6M219.51 216.1V222.3M220.27 212.7V222.9M221.03 219.6V225.4M221.80 216.5V222.1M229.43 239.6V246.7M230.20 241.0V247.9M234.78 244.3V253.0M236.30 244.8V249.2M237.07 242.1V247.3M237.83 237.3V242.8M238.59 235.8V240.2M239.36 234.6V239.6M240.12 232.8V236.8M240.88 231.2V233.8M241.65 230.0V234.6M243.17 230.0V234.9M249.28 244.5V253.1M250.81 246.0V254.4M251.57 241.4V249.9M267.61 290.3V296.8M269.13 286.5V298.5M270.66 281.2V291.4M272.95 286.5V294.4M276.01 288.0V295.5M278.30 294.9V301.1M288.22 317.4V335.4M288.98 319.5V332.5M290.51 314.7V325.4M291.28 311.4V323.6M295.09 327.2V341.1M299.67 353.7V374.3M300.44 359.1V372.7M301.20 350.8V366.9M301.96 330.9V358.3M302.73 326.9V361.8M303.49 326.7V340.3M308.07 361.7V398.4M308.84 374.7V392.3M310.36 363.5V380.1M311.13 350.2V366.2M311.89 351.5V358.2M312.65 352.8V364.3M314.94 360.7V369.2M315.71 368.0V382.7M316.47 367.4V373.3M317.23 350.3V368.0M318.00 332.5V350.9M318.76 321.8V344.1M319.52 318.2V341.9M320.29 307.0V336.2M324.87 354.8V394.5M327.16 365.6V371.4M328.69 359.9V365.1M329.45 355.3V360.8M330.21 351.0V357.0M330.98 347.3V356.2M332.50 340.0V361.2M334.79 363.1V376.7M335.56 361.9V368.1M336.32 347.2V362.5M337.09 335.6V348.6M337.85 333.3V346.9M338.61 327.2V350.4M339.38 313.0V350.1M340.14 323.8V341.1M340.90 319.7V337.3M341.67 320.1V330.7M342.43 321.7V332.1M343.19 323.0V328.6M343.96 292.6V325.2M344.72 299.1V313.1M345.48 280.4V300.5M347.01 260.5V277.5M347.77 267.9V282.2M348.54 268.3V278.0M349.30 266.6V273.8M350.06 247.2V270.1M351.59 263.9V272.0M356.17 274.9V300.3M358.46 280.8V291.1M359.23 278.8V288.1M359.99 276.9V285.0M360.75 273.8V283.1M361.52 267.7V274.8M362.28 264.6V273.1M363.81 259.6V275.5M366.10 261.8V276.0M366.86 261.5V276.9M367.63 262.3V285.0M369.15 265.3V271.2M369.92 266.8V285.0M370.68 263.4V273.5M371.44 256.4V273.2M372.21 256.1V268.1M372.97 256.2V261.3M373.73 236.1V256.8M374.50 237.4V247.5M378.31 260.3V267.8M381.37 262.3V277.2M382.13 262.0V275.5M385.95 276.8V290.1M386.71 276.9V287.4M387.48 266.6V283.3M388.24 260.1V272.0M393.58 275.7V279.4M399.69 277.5V290.9M404.27 299.7V310.0M405.04 295.3V307.2M405.80 291.4V303.4M406.56 294.8V301.6M407.33 293.0V298.7M408.09 284.6V295.6M408.85 280.8V291.9M409.62 274.6V290.8M413.44 293.2V308.2M416.49 303.6V321.2M417.25 300.8V315.0M418.02 297.6V312.3M419.54 292.0V304.6M424.12 302.9V315.5M424.89 306.8V315.7M425.65 297.3V312.4M426.41 302.2V310.0M427.18 298.5V305.7M432.52 312.5V325.0M443.98 346.2V360.0M445.50 360.3V370.0M446.27 353.3V367.5M447.03 345.9V353.9M447.79 342.8V354.1M448.56 342.5V353.3M449.32 340.1V351.2M450.08 335.1V346.0M450.85 332.5V344.5M451.61 329.2V340.4M452.37 334.5V341.9M453.14 329.9V336.3M453.90 316.8V330.7M454.66 301.5V317.4M455.43 294.2V310.2M456.19 283.4V300.1M456.95 276.3V293.4M457.72 271.7V281.7M458.48 267.1V277.3M462.30 283.8V291.1M463.06 281.8V289.4M463.83 274.4V283.7M464.59 269.7V275.9M466.12 267.8V276.0M476.04 309.8V313.9M476.81 307.7V313.5M477.57 306.5V315.0M478.33 302.1V310.4M479.10 297.7V306.5M479.86 302.1V307.5M480.62 294.7V303.9M481.39 284.3V295.7M482.15 279.2V285.9M482.91 275.0V281.5M483.68 270.8V281.7M485.20 280.8V287.0M485.97 280.5V287.0M486.73 276.0V286.1M487.49 270.3V276.7M488.26 269.9V274.4M496.66 290.1V300.0M498.18 287.7V292.4M498.95 288.8V295.5M499.71 293.4V296.9M500.47 290.7V294.6M502.00 279.0V290.0M503.53 286.6V292.6M509.64 301.1V303.9M511.16 306.9V313.3M512.69 303.8V308.8M513.45 302.5V305.8M514.22 301.2V310.6M521.09 338.8V344.6M521.85 332.7V341.6M522.62 325.1V337.7M524.14 321.8V330.8M524.91 319.1V335.1M525.67 330.9V338.3M526.43 326.9V335.9M527.20 326.3V343.0M527.96 311.8V329.1M528.72 297.2V327.8M529.49 290.3V312.4M530.25 289.2V299.2M531.01 290.0V297.0M531.78 287.5V294.8M533.30 278.4V281.7M534.07 276.2V280.3M534.83 274.3V284.2M537.89 283.1V289.8M541.70 284.6V294.2M543.23 285.0V291.9M546.28 292.3V299.4M547.05 285.5V292.9M547.81 282.2V286.3M548.57 279.0V290.0M549.34 275.7V292.4M550.87 277.1V289.7M560.03 314.5V319.7M560.79 308.0V319.9M562.32 313.1V320.0M563.84 305.4V313.6M564.61 304.3V313.2M565.37 308.1V317.5M570.72 324.1V334.4M572.24 315.8V329.0M575.30 330.2V336.5M576.06 324.8V332.6M576.82 323.1V327.0M577.59 321.4V325.9M578.35 323.2V329.2M579.11 321.5V327.3M579.88 316.9V323.8M580.64 315.2V322.6M581.41 317.6V324.1M588.28 338.9V349.7M589.04 339.9V348.7M590.57 337.6V343.8M592.86 341.9V348.4M600.49 375.0V396.3M602.02 381.8V403.2M603.55 390.9V399.1M608.13 431.8V452.9M609.65 427.2V434.2M610.42 423.6V427.8M611.18 416.0V424.2M611.95 407.4V416.6M612.71 394.8V408.9M613.47 394.0V405.0M614.24 395.5V416.7M615.00 380.7V404.7M615.76 361.9V396.8M616.53 355.5V370.2M617.29 354.7V376.4M618.05 353.9V366.5M618.82 353.2V358.8M619.58 346.0V353.8M620.34 336.9V347.8M621.11 337.4V354.4M622.63 340.8V346.8M623.40 337.2V343.0M624.16 320.8V337.8M624.92 315.1V321.4M625.69 309.3V315.7M626.45 305.1V318.8M627.22 306.0V318.8M628.74 295.2V303.1M631.80 314.4V321.7M632.56 314.1V321.5M633.32 307.4V318.8M634.09 299.1V318.6M634.85 303.4V316.6M635.61 304.5V321.7M636.38 302.4V318.2M637.14 306.3V323.7M637.90 308.2V319.1M649.36 364.7V388.5M650.88 379.3V386.8M651.65 377.0V385.6M653.17 354.2V370.7M653.94 347.2V354.8M654.70 340.0V347.8M655.46 332.4V347.5M656.23 336.6V351.5M656.99 335.7V345.1M657.76 317.7V336.3M658.52 305.1V326.0M659.28 277.2V316.5M660.05 277.1V301.6M660.81 261.9V289.7M661.57 276.4V295.0M669.21 295.8V318.2M670.73 290.8V302.5M671.50 294.8V306.0M672.26 298.8V325.0M673.03 293.1V311.0M673.79 280.4V294.5M674.55 268.8V281.0M675.32 263.6V283.7M687.53 334.8V363.9M688.30 330.9V352.5M689.06 332.7V356.3M689.82 322.9V355.6M691.35 322.2V346.3M694.40 332.3V354.6M698.22 342.2V362.7M698.98 345.9V361.9M700.51 333.7V342.8M701.27 325.1V347.8M702.80 334.9V356.5M703.57 331.0V356.1M704.33 336.5V365.0M705.09 334.3V347.9M705.86 316.9V334.9M706.62 305.6V318.1M710.44 322.2V335.8M711.96 319.9V333.3M712.73 285.7V320.5M714.25 295.0V307.9M715.78 265.2V302.1M718.84 298.0V309.7M719.60 309.1V317.2M720.36 308.5V323.7M721.13 301.8V331.2M721.89 280.0V307.4M722.65 262.8V297.6M723.42 252.8V279.7M724.18 263.0V276.5M724.94 263.0V283.0M726.47 237.4V259.4M727.23 241.2V268.0M734.87 268.9V294.9M735.63 262.0V300.3M736.40 257.8V279.8M737.16 238.8V274.6M737.92 237.0V262.1M738.69 229.2V246.4M739.45 212.6V233.3M740.98 187.4V225.3M741.74 173.7V208.0M742.50 177.5V199.0M743.27 178.5V195.8M744.03 169.5V204.5M744.79 156.5V173.9M745.56 143.5V164.8M747.85 163.4V182.3M751.67 172.2V180.7M753.96 179.9V208.9M754.72 176.2V191.2M755.48 172.1V181.3M756.25 164.5V175.7M757.01 156.9V169.2M757.77 149.3V169.6M758.54 155.3V170.4M759.30 159.3V170.4M763.12 156.6V178.3M763.88 150.4V170.1M765.41 148.5V158.7M766.17 151.5V159.9M766.94 138.7V161.1M767.70 126.3V161.8M768.46 138.7V161.2M770.75 121.7V151.8M771.52 129.0V146.7M775.33 148.9V166.8M776.10 157.8V178.9M776.86 145.4V167.5M777.62 145.6V161.0M778.39 129.2V147.4M780.68 111.1V132.4M781.44 114.2V124.9M791.37 160.2V181.5M792.89 156.6V170.5M793.66 153.4V165.8M794.42 137.5V160.5M795.19 146.4V158.2M795.95 141.6V156.1M796.71 141.5V154.1M797.48 144.9V152.1M798.24 143.8V150.7M799.00 139.7V147.9M799.77 133.8V147.1M800.53 135.6V146.8M801.29 137.5V146.6M802.06 136.2V148.1M802.82 130.3V149.6M803.58 121.8V141.0M804.35 106.6V122.4M805.11 92.4V111.0M805.87 81.8V95.8M806.64 78.4V96.7M807.40 75.2V89.1M808.16 76.5V89.6M809.69 79.0V87.2M810.46 76.1V84.2M811.22 65.3V80.2M817.33 96.3V106.5M818.85 89.3V96.2M819.62 86.8V93.3M820.38 84.2V88.1M821.14 81.3V84.8M821.91 77.3V81.9M822.67 73.4V80.0M823.43 69.5V76.0M824.20 65.6V92.0M824.96 64.0V85.4M825.73 61.4V80.1M826.49 58.9V71.3M832.60 90.0V105.7M834.12 92.2V100.2M841.76 90.7V100.1M842.52 88.1V99.3M843.29 83.8V95.7M844.05 82.4V93.8M844.81 81.4V89.6M845.58 79.8V88.4M846.34 78.3V81.4M847.87 74.2V80.9M849.39 69.3V81.6M853.21 90.0V99.0M853.97 95.8V100.9M854.74 90.1V97.6M855.50 83.0V90.8M856.27 79.4V83.6M857.03 76.0V82.2M857.79 77.0V82.2M862.37 94.0V99.5M863.14 88.7V96.7M863.90 83.7V92.8M864.66 77.8V85.3M865.43 71.9V78.4M866.19 68.9V73.1M866.95 68.4V72.4M867.72 67.9V73.1M870.77 67.5V79.4M881.46 122.8V134.2M882.99 134.9V139.3M885.28 128.9V143.8M889.86 117.6V145.4M894.44 148.1V157.9M895.97 144.9V155.3M900.55 155.8V162.5M901.31 154.7V161.6M902.08 153.6V161.5M902.84 154.4V166.0M903.60 147.7V160.6M904.37 144.0V149.4M905.13 140.5V144.6M905.89 137.4V141.3M906.66 137.3V144.7M907.42 139.6V144.7M908.95 133.7V144.3M916.58 161.6V167.3M917.35 154.6V170.4M918.11 155.0V160.9M925.74 169.6V175.3M926.51 171.7V180.3M930.32 184.4V198.5M931.09 181.2V189.3M931.85 178.0V188.0M932.62 173.8V180.9M933.38 172.4V182.6M936.43 169.4V175.5M937.96 169.6V174.6M938.72 174.0V183.4M939.49 172.4V181.8M940.25 170.9V177.0M941.01 164.6V174.9M941.78 159.0V169.7M942.54 155.2V165.5M943.30 151.2V159.7M944.07 149.4V157.1M950.18 149.6V155.7M950.94 152.2V157.8M951.70 149.5V155.8M953.99 148.7V156.4M957.05 150.2V159.0M958.57 150.8V159.8M959.34 150.8V158.7M960.10 152.8V159.0M960.86 154.7V163.7M961.63 146.4V157.3M962.39 140.5V157.7M963.16 146.6V152.8M963.92 133.0V147.2M964.68 120.2V133.6M965.45 111.7V120.8M966.21 107.8V115.8M966.97 105.1V117.1M967.74 108.4V117.2M968.50 109.7V120.3M969.26 106.8V121.1M970.03 105.5V111.0M970.79 104.3V108.8M971.55 104.5V109.8M973.08 104.8V111.5M973.84 101.2V109.8" stroke="#089981" stroke-width="1" fill="none"/>
<path d="M1.15 78.5V87.9M2.67 79.7V90.7M3.44 80.3V89.6M4.20 80.8V88.7M4.96 81.3V86.5M5.73 81.8V103.5M8.02 82.0V86.9M8.78 82.9V95.7M10.31 82.0V90.4M12.60 90.8V96.8M18.71 75.0V79.5M20.23 75.7V90.6M21.76 78.7V88.2M22.52 78.1V93.9M24.81 75.3V83.3M26.34 75.8V83.9M27.10 78.0V89.0M28.63 76.5V87.4M29.39 79.4V87.0M30.92 79.7V88.5M31.69 85.3V92.0M32.45 83.9V92.5M33.98 80.1V90.7M41.61 69.5V74.3M43.14 68.2V77.5M44.66 69.5V75.8M45.43 64.8V74.8M46.96 60.4V74.0M48.48 54.0V77.0M49.25 62.1V74.9M50.01 67.7V72.8M53.06 55.6V62.2M53.83 54.7V63.4M55.35 61.0V64.4M56.88 55.9V62.4M57.64 55.9V62.8M58.41 58.6V66.9M59.17 61.7V68.5M59.93 64.7V70.7M60.70 69.2V75.3M61.46 73.8V77.1M62.23 76.5V82.6M62.99 82.0V92.0M63.75 86.3V97.2M64.52 90.4V99.9M66.04 117.5V127.0M66.81 108.5V121.4M69.86 102.6V113.2M70.62 111.3V115.6M71.39 106.5V115.7M72.15 106.8V114.9M72.91 114.1V128.0M73.68 127.4V136.8M74.44 132.9V142.6M75.20 124.8V139.8M76.73 132.4V138.7M77.50 135.0V145.0M78.26 139.3V149.6M79.02 141.0V153.9M79.79 145.9V152.7M81.31 155.6V162.8M82.08 157.2V176.4M82.84 169.6V183.2M87.42 150.2V160.3M88.18 152.9V162.0M88.95 146.1V160.1M89.71 159.5V174.2M91.24 154.6V194.4M99.64 95.2V100.8M101.16 102.7V107.4M101.93 106.0V117.0M108.04 92.2V105.5M108.80 104.9V115.8M109.56 111.6V126.1M110.33 103.7V131.9M111.85 111.6V117.4M112.62 114.8V119.2M113.38 114.7V126.3M114.14 115.7V126.4M114.91 111.1V119.2M115.67 116.1V127.7M116.43 127.1V144.8M117.20 135.5V154.0M117.96 130.4V144.0M118.72 131.0V140.2M119.49 131.6V142.0M120.25 133.8V150.9M121.01 139.7V148.2M121.78 129.7V152.0M122.54 151.4V170.6M123.31 162.0V176.5M124.07 168.2V175.0M124.83 170.9V190.2M125.60 178.2V205.1M126.36 186.5V206.6M128.65 175.3V187.3M129.41 186.7V194.9M130.18 193.1V197.4M130.94 191.6V199.8M131.70 197.6V206.7M137.05 167.6V173.5M137.81 167.7V186.0M138.58 172.0V195.0M139.34 194.4V218.7M140.10 195.7V228.0M145.45 173.4V176.1M146.21 175.5V179.8M146.97 178.3V183.7M147.74 183.1V192.9M148.50 191.9V196.0M149.26 193.5V199.1M150.03 193.7V202.2M150.79 201.1V209.0M151.55 203.9V214.0M152.32 206.2V222.4M153.08 210.6V223.1M153.85 218.6V222.7M154.61 216.6V221.9M157.66 211.5V222.6M158.43 217.6V229.2M159.19 228.6V234.1M159.95 233.5V242.7M160.72 234.0V250.4M161.48 239.3V259.0M162.24 250.5V260.6M163.01 245.8V261.2M163.77 239.3V248.8M165.30 255.2V273.5M166.06 257.2V267.1M172.17 204.9V216.8M172.93 208.9V218.9M173.70 218.3V239.7M174.46 227.2V248.5M182.86 208.1V220.9M183.62 210.8V219.1M184.39 213.9V229.9M185.15 217.9V237.0M185.91 221.6V236.0M189.73 211.0V219.1M192.02 194.2V204.6M192.78 201.1V208.4M193.55 207.8V215.5M194.31 214.9V223.0M195.07 222.4V232.0M195.84 230.4V249.4M205.00 188.7V200.6M205.76 192.0V206.6M207.29 197.9V210.2M208.05 207.0V213.2M208.82 210.0V216.3M209.58 210.3V220.3M210.34 212.4V223.5M211.11 217.3V228.2M211.87 221.7V230.5M214.93 221.5V226.1M215.69 223.0V225.4M217.22 220.7V224.2M218.74 215.4V222.6M222.56 218.4V221.6M223.32 220.3V223.8M224.09 222.1V226.1M224.85 222.9V227.1M225.61 223.6V230.0M226.38 228.1V241.7M227.14 237.2V245.2M227.90 238.9V246.5M228.67 235.0V246.4M230.96 239.1V249.9M231.72 246.1V252.2M232.49 247.0V253.1M233.25 246.4V254.1M234.01 246.6V255.0M235.54 243.4V251.2M242.41 230.1V235.1M243.94 230.0V237.2M244.70 231.8V237.4M245.47 233.7V239.1M246.23 235.6V240.8M246.99 239.0V250.8M247.76 240.2V254.2M248.52 241.2V248.8M250.05 235.2V252.1M252.34 244.3V247.7M253.10 246.6V260.9M253.86 244.0V255.9M254.63 241.3V253.7M255.39 242.6V249.4M256.15 248.8V259.2M256.92 258.6V266.4M257.68 263.6V268.9M258.44 260.4V266.8M259.21 261.2V269.6M259.97 267.4V274.9M260.74 273.2V279.4M261.50 272.9V282.3M262.26 275.9V278.5M263.03 277.9V281.1M263.79 280.5V289.7M264.55 283.5V291.8M265.32 286.0V292.2M266.08 290.6V297.5M266.84 293.5V297.9M268.37 288.0V297.9M269.90 287.3V293.4M271.42 283.2V291.8M272.19 281.8V289.7M273.71 289.5V295.4M274.48 284.3V293.0M275.24 285.7V290.1M276.77 290.3V297.1M277.53 292.6V298.4M279.06 297.2V305.8M279.82 299.4V308.0M280.59 301.5V309.7M281.35 303.9V316.4M282.11 308.9V318.4M282.88 311.5V320.1M283.64 309.6V322.5M284.40 311.4V323.8M285.17 313.1V324.5M285.93 314.8V348.5M286.69 315.5V325.8M287.46 316.0V328.6M289.75 314.0V323.2M292.04 305.2V319.0M292.80 311.2V323.5M293.57 317.6V330.3M294.33 321.2V335.5M295.86 330.7V347.6M296.62 334.7V352.0M297.38 324.8V368.6M298.15 356.4V371.3M298.91 354.4V372.8M304.25 326.4V337.9M305.02 326.2V337.2M305.78 330.1V364.4M306.55 341.1V362.9M307.31 352.0V365.0M309.60 379.0V386.2M313.42 354.0V365.6M314.18 356.1V364.3M321.05 309.8V318.0M321.82 312.5V325.8M322.58 316.3V351.5M323.34 333.5V354.6M324.11 342.0V367.2M325.63 359.5V374.2M326.40 362.6V371.0M327.92 364.5V370.0M331.74 343.6V356.5M333.27 354.8V372.0M334.03 361.2V377.0M346.25 264.9V282.9M350.83 262.8V271.0M352.36 264.7V272.9M353.12 261.2V272.3M353.88 256.7V262.7M354.65 262.1V268.2M355.41 267.6V275.7M356.94 274.5V286.0M357.70 278.9V293.3M363.04 266.7V276.5M364.57 263.7V276.6M365.33 266.5V277.4M368.39 263.8V275.0M375.26 242.4V252.4M376.02 248.1V257.2M376.79 254.9V262.2M377.55 259.1V267.3M379.08 262.0V267.7M379.84 262.0V267.7M380.60 262.0V271.4M382.90 263.3V271.0M383.66 265.9V273.1M384.42 268.4V276.8M385.19 271.0V292.5M389.00 252.0V267.4M389.77 258.7V271.3M390.53 258.1V267.9M391.29 261.8V274.7M392.06 267.1V281.9M392.82 272.0V280.6M394.35 271.7V278.1M395.11 265.9V272.3M395.87 266.7V276.5M396.64 275.9V282.2M397.40 281.3V284.7M398.17 275.0V287.9M398.93 274.9V280.8M400.46 282.6V297.1M401.22 285.6V300.4M401.98 286.9V294.4M402.75 290.7V299.6M403.51 299.0V306.8M410.38 281.6V290.9M411.14 282.8V287.6M411.91 286.8V291.3M412.67 290.6V301.6M414.20 295.8V303.9M414.96 298.4V308.5M415.73 301.1V328.4M418.78 294.0V312.2M420.31 281.9V300.9M421.07 298.9V311.1M421.83 310.5V318.9M422.60 313.9V326.8M423.36 310.5V328.5M427.94 297.9V304.5M428.71 298.7V301.8M429.47 299.5V302.3M430.23 300.9V304.5M431.00 303.9V312.9M431.76 311.6V320.6M433.29 304.8V321.3M434.05 300.4V310.7M434.81 307.3V317.6M435.58 314.2V324.7M436.34 323.8V332.7M437.10 332.1V343.1M437.87 342.5V348.7M438.63 345.4V354.3M439.39 353.1V358.0M440.16 351.5V359.9M440.92 355.5V361.8M441.68 355.8V362.7M442.45 346.9V357.1M443.21 343.7V359.5M444.74 357.5V367.5M459.25 264.4V280.8M460.01 276.4V291.3M460.77 275.3V293.5M461.54 270.0V289.7M465.35 269.3V274.2M466.88 266.2V283.0M467.64 271.4V279.0M468.41 277.7V282.5M469.17 281.9V295.0M469.93 294.4V306.5M470.70 305.0V311.7M471.46 309.9V316.7M472.22 307.5V318.0M472.99 306.9V326.9M473.75 309.2V320.5M474.52 309.0V317.7M475.28 309.3V313.8M484.44 275.6V286.7M489.02 273.7V283.1M489.79 269.1V282.3M490.55 276.3V283.8M491.31 273.4V279.7M492.08 275.6V281.6M492.84 279.4V287.1M493.60 286.5V296.2M494.37 295.6V300.6M495.13 297.2V304.9M495.89 299.4V306.1M497.42 288.4V291.8M501.24 288.5V292.3M502.76 285.3V291.8M504.29 283.6V291.3M505.06 285.2V293.2M505.82 288.8V294.8M506.58 294.2V302.3M507.35 299.5V305.8M508.11 301.8V308.7M508.87 299.5V305.3M510.40 302.3V307.5M511.93 306.8V315.9M514.98 301.9V313.8M515.74 301.0V310.1M516.51 307.1V318.7M517.27 313.2V324.0M518.03 317.6V323.9M518.80 321.2V327.9M519.56 327.3V346.5M520.33 336.0V347.7M523.38 321.4V327.4M532.54 280.6V288.4M535.60 271.6V282.0M536.36 268.7V284.2M537.12 279.4V288.0M538.65 278.4V288.5M539.41 282.8V289.6M540.18 286.0V292.9M540.94 286.9V294.7M542.47 284.1V292.4M543.99 286.4V295.3M544.76 291.0V298.1M545.52 292.8V299.3M550.10 283.3V292.3M551.63 278.3V283.8M552.39 281.9V289.9M553.16 283.2V292.1M553.92 281.9V288.1M554.68 284.4V289.2M555.45 287.1V290.2M556.21 289.6V298.1M556.97 297.5V309.2M557.74 308.6V316.5M558.50 312.2V319.2M559.26 311.9V319.4M561.55 307.1V316.1M563.08 311.7V319.6M566.14 308.4V316.5M566.90 310.4V315.9M567.66 312.7V316.7M568.43 316.1V319.5M569.19 318.9V324.1M569.95 323.5V336.8M571.48 323.6V332.9M573.01 319.0V327.0M573.77 319.7V329.9M574.53 329.3V334.7M582.17 317.4V322.1M582.93 318.5V323.5M583.70 322.9V326.8M584.46 326.0V332.5M585.22 324.9V331.1M585.99 327.9V353.8M586.75 329.3V337.9M587.51 331.3V349.4M589.80 342.9V347.3M591.33 336.1V346.3M592.09 342.1V348.0M593.62 338.1V346.3M594.38 340.4V350.0M595.15 344.0V357.0M595.91 349.4V354.6M596.68 354.0V364.9M597.44 364.3V389.3M598.20 387.9V399.6M598.97 399.0V409.9M599.73 392.0V420.3M601.26 375.0V388.1M602.78 375.0V397.1M604.31 385.7V401.7M605.07 385.6V399.6M605.84 392.1V412.5M606.60 410.0V434.0M607.36 410.4V445.3M608.89 428.6V443.6M621.87 342.0V350.6M627.98 299.8V310.9M629.51 292.0V301.2M630.27 300.6V314.1M631.03 312.5V322.0M638.67 306.3V316.1M639.43 307.9V314.6M640.19 309.4V312.8M640.96 312.0V319.6M641.72 319.0V330.4M642.49 323.6V333.7M643.25 321.6V334.5M644.01 330.8V347.6M644.78 345.1V356.6M645.54 342.4V365.3M646.30 348.3V366.3M647.07 363.5V378.3M647.83 375.0V383.2M648.59 373.0V385.8M650.12 364.5V382.6M652.41 370.1V381.9M662.34 280.4V295.0M663.10 269.8V289.7M663.86 269.0V290.3M664.63 285.7V300.2M665.39 293.1V307.6M666.15 298.3V309.3M666.92 302.1V311.7M667.68 303.7V328.0M668.44 298.2V308.8M669.97 287.2V312.3M676.08 275.5V294.7M676.84 276.1V289.9M677.61 275.6V281.3M678.37 280.2V287.6M679.13 284.8V296.2M679.90 294.5V307.0M680.66 290.5V307.5M681.42 291.1V298.6M682.19 291.7V297.9M682.95 297.3V316.8M683.71 308.2V342.8M684.48 315.1V330.9M685.24 323.3V349.6M686.00 339.7V355.5M686.77 340.8V359.4M690.59 342.8V353.5M692.11 316.1V336.3M692.88 323.8V350.6M693.64 331.4V371.3M695.17 333.7V361.7M695.93 343.2V360.6M696.69 317.0V352.7M697.46 340.8V356.0M699.75 342.2V371.8M702.04 317.3V352.2M707.38 301.5V312.8M708.15 311.5V324.1M708.91 314.4V323.9M709.67 313.1V323.2M711.20 328.5V350.5M713.49 277.4V295.6M715.02 298.0V306.6M716.54 268.2V294.5M717.31 277.9V306.6M718.07 296.4V308.5M725.71 236.8V289.5M728.00 245.0V276.7M728.76 248.8V263.7M729.52 252.6V261.1M730.29 254.4V281.8M731.05 267.3V281.2M731.81 263.6V280.5M732.58 250.6V274.8M733.34 260.9V289.8M734.11 266.9V314.1M740.21 203.2V220.9M746.32 138.0V161.6M747.08 147.5V166.6M748.61 173.6V187.4M749.38 157.8V192.8M750.14 163.5V182.3M750.90 169.3V204.3M752.43 174.8V186.4M753.19 177.3V184.6M760.06 141.5V162.8M760.83 147.3V158.2M761.59 153.1V168.2M762.35 167.6V184.0M764.65 130.8V161.8M769.23 149.9V160.6M769.99 151.2V160.0M772.28 139.9V150.1M773.04 141.1V153.2M773.81 138.8V148.1M774.57 142.9V155.2M779.15 121.3V137.5M779.92 121.3V134.7M782.21 118.2V126.1M782.97 124.1V137.5M783.73 130.0V137.2M784.50 133.2V140.1M785.26 135.1V139.7M786.02 137.1V148.1M786.79 147.5V157.6M787.55 154.9V160.2M788.31 154.4V162.7M789.08 155.9V163.7M789.84 154.6V166.0M790.60 159.2V171.9M792.13 156.7V174.9M808.93 74.1V90.4M811.98 69.9V76.2M812.75 74.5V78.6M813.51 78.0V83.1M814.27 82.5V88.0M815.04 87.4V98.7M815.80 97.7V108.7M816.56 99.9V108.5M818.09 90.8V97.8M827.25 57.8V70.3M828.02 63.1V76.4M828.78 69.4V81.9M829.54 77.6V85.5M830.31 78.2V86.6M831.07 82.1V85.4M831.83 83.7V90.6M833.36 95.3V102.9M834.89 82.1V92.8M835.65 84.2V89.8M836.41 86.7V91.9M837.18 89.3V102.3M837.94 94.5V109.7M838.70 93.7V104.1M839.47 92.8V101.6M840.23 93.0V103.3M841.00 96.0V101.0M847.10 76.7V83.0M848.63 71.8V79.5M850.16 78.4V85.4M850.92 76.4V85.2M851.68 80.4V84.8M852.45 84.2V94.5M858.56 81.6V88.2M859.32 85.9V88.9M860.08 83.2V90.0M860.85 83.8V90.2M861.61 89.0V96.3M868.48 67.3V74.2M869.24 72.5V79.5M870.01 73.4V78.0M871.54 77.7V86.3M872.30 78.3V88.9M873.06 82.1V95.7M873.83 94.2V106.3M874.59 101.5V112.6M875.35 105.5V114.8M876.12 106.0V118.7M876.88 117.9V127.9M877.64 124.3V132.8M878.41 125.3V137.1M879.17 121.7V137.1M879.93 124.7V145.6M880.70 124.0V129.6M882.22 132.4V141.0M883.75 119.4V137.6M884.51 129.3V139.7M886.04 128.3V142.4M886.81 132.5V152.0M887.57 139.3V151.5M888.33 140.7V149.4M889.10 135.4V147.4M890.62 144.3V150.5M891.39 149.9V157.2M892.15 147.9V163.9M892.91 157.3V165.1M893.68 155.0V161.5M895.20 139.6V154.4M896.73 145.7V152.8M897.49 149.8V158.8M898.26 154.0V163.0M899.02 161.0V177.0M899.78 157.8V170.6M908.18 129.5V142.5M909.71 133.6V141.4M910.47 135.6V142.2M911.24 141.0V150.5M912.00 146.1V152.6M912.76 149.5V154.5M913.53 150.5V156.5M914.29 148.4V158.0M915.05 153.8V161.2M915.82 159.2V164.3M918.87 155.0V159.1M919.64 155.0V159.9M920.40 159.3V167.7M921.16 155.7V167.9M921.93 166.9V172.2M922.69 171.6V176.6M923.45 171.9V179.9M924.22 167.3V183.8M924.98 168.5V173.5M927.27 174.2V183.5M928.03 176.8V184.3M928.80 179.3V184.7M929.56 181.9V186.5M934.14 175.8V181.8M934.91 175.7V179.8M935.67 165.7V177.9M937.20 167.8V171.8M944.83 144.9V154.1M945.59 146.9V152.4M946.36 149.0V152.7M947.12 151.0V163.1M947.89 157.8V163.4M948.65 155.8V162.2M949.41 150.5V158.2M952.47 145.7V152.8M953.23 144.4V150.8M954.76 150.7V158.2M955.52 155.3V162.6M956.28 153.8V163.6M957.81 149.6V157.5M972.32 107.2V112.8" stroke="#f23645" stroke-width="1" fill="none"/>
</svg>
<div class="edge-t"></div><div class="edge-b"></div>
<div class="pl" style="top:32.10px">4,468.00</div><div class="pl" style="top:59.69px">4,464.00</div><div class="pl" style="top:87.28px">4,460.00</div><div class="pl" style="top:114.87px">4,456.00</div><div class="pl" style="top:142.46px">4,452.00</div><div class="pl" style="top:170.05px">4,448.00</div><div class="pl" style="top:197.64px">4,444.00</div><div class="pl" style="top:225.23px">4,440.00</div><div class="pl" style="top:252.82px">4,436.00</div><div class="pl" style="top:280.41px">4,432.00</div><div class="pl" style="top:308.00px">4,428.00</div><div class="pl" style="top:335.59px">4,424.00</div><div class="pl" style="top:363.18px">4,420.00</div><div class="pl" style="top:390.77px">4,416.00</div><div class="pl" style="top:418.36px">4,412.00</div><div class="pl" style="top:445.95px">4,408.00</div><div class="pl" style="top:473.54px">4,404.00</div>
<div class="tl" style="left:-21.38px">07:00</div><div class="tl" style="left:25.79px">08:00</div><div class="tl" style="left:71.67px">09:00</div><div class="tl" style="left:117.54px">10:00</div><div class="tl" style="left:163.42px">11:00</div><div class="tl" style="left:209.30px">12:00</div><div class="tl" style="left:255.17px">13:00</div><div class="tl" style="left:301.05px">14:00</div><div class="tl" style="left:346.92px">15:00</div><div class="tl" style="left:392.80px">16:00</div><div class="tl" style="left:438.68px">17:00</div><div class="tl" style="left:484.55px">18:00</div><div class="tl" style="left:530.43px">19:00</div><div class="tl" style="left:576.30px">20:00</div><div class="tl" style="left:622.18px">21:00</div><div class="tl" style="left:668.06px">22:00</div><div class="tl" style="left:713.93px">23:00</div><div class="tl b" style="left:759.81px">9</div><div class="tl" style="left:805.68px">01:00</div><div class="tl" style="left:851.56px">02:00</div><div class="tl" style="left:897.44px">03:00</div><div class="tl" style="left:943.31px">04:00</div>
<!-- header -->
<svg class="abs" style="left:5px;top:5px" width="17" height="17" viewBox="0 0 17 17"><circle cx="8.1" cy="8.4" r="7.3" fill="#d69a13"/><path d="M6.9 5.3H9.9L11.1 7.5H5.8zM4.6 9H6.4L7.5 11.1H3.3zM10.1 9H12.2L13.6 11.1H8.8zM3.3 11.1H13.6v.3H3.3z" fill="#fff"/></svg>
<div class="title"><span style="left:23.85px;letter-spacing:-0.565px">Gold</span> <span style="left:53.85px;letter-spacing:-0.808px">Spot</span> <span style="left:84.38px;letter-spacing:0px">/</span> <span style="left:93.85px;letter-spacing:-0.617px">U.S.</span> <span style="left:120.7px;letter-spacing:-0.242px">Dollar</span> <span style="left:157.45px;letter-spacing:0px">·</span> <span style="left:163.95px;letter-spacing:0px">1</span> <span style="left:173.68px;letter-spacing:0px">·</span> <span style="left:180.35px;letter-spacing:-0.829px">FXOpen</span></div>
<svg class="abs" style="left:234px;top:8.6px" width="10" height="10" viewBox="0 0 10 10"><path d="M.1.2H9.3L6.6 4.9 9.3 9.8H.1z" fill="#ff5252"/></svg>
<svg class="abs" style="left:252px;top:6px" width="34" height="15" viewBox="0 0 34 15"><path d="M8.1.25H16.75V14.6H8.1A7.17 7.17 0 0 1 8.1.25z" fill="#d9f0ec"/><path d="M16.75.25H25.6A7.17 7.17 0 0 1 25.6 14.6H16.75z" fill="#f6b8d0"/><circle cx="9.6" cy="7.5" r="3.1" fill="#0e9f86"/><text x="24.6" y="11.6" text-anchor="middle" font-family="Liberation Sans, sans-serif" font-size="12.5" font-weight="bold" fill="#e8246b">≈</text></svg>
<div class="abs ohlc" style="left:291.3px">O<span class="g">4,472.42</span></div>
<div class="abs ohlc" style="left:344.4px">H<span class="g">4,474.23</span></div>
<div class="abs ohlc" style="left:397.2px">L<span class="g">4,472.42</span></div>
<div class="abs ohlc" style="left:447.8px">C<span class="g">4,473.77</span></div>
<div class="abs ohlc g" style="left:500.4px;letter-spacing:-.22px">+1.21 (+0.03%)</div>
<!-- sell / buy -->
<div class="box sell"><b>4,473.98</b><span>SELL</span></div>
<div class="abs spread">0.29</div>
<div class="box buy"><b>4,474.27</b><span>BUY</span></div>
<div class="coll"><svg class="abs" style="left:4px;top:4.6px" width="9" height="6" viewBox="0 0 9 6"><path d="M1 1.2L3.9 3.9 6.8 1.2" stroke="#131722" stroke-width="1.1" fill="none" stroke-linecap="round" stroke-linejoin="round"/></svg><span>4</span></div>
<!-- price tags -->
<div class="ptag"><div style="top:.5px">4,473.77</div><div style="top:12px;opacity:.82">00:41</div></div>
<div class="ltag"><div>4,458.17</div></div>
<div class="vtag">0</div>
<!-- logo -->
<svg class="abs" style="left:8px;top:472px" width="25" height="12" viewBox="0 0 25 12"><path d="M.2.4H10.3V11.6H4.9V4.6H.2z" fill="#131313"/><circle cx="13.8" cy="2.2" r="1.85" fill="#131313"/><path d="M17.3.4H24.1L20.1 11.6H13.4z" fill="#131313"/></svg>
<div class="abs tv">TradingView</div>
<!-- settings hex -->
<svg class="abs" style="left:995px;top:500px" width="14" height="14" viewBox="0 0 14 14"><path d="M4 1.7h5.4L12.2 6.8 9.4 11.9H4L1.2 6.8z" stroke="#131722" stroke-width="1.05" fill="none" stroke-linejoin="round"/><circle cx="6.7" cy="6.8" r="1.7" stroke="#131722" stroke-width="1" fill="none"/></svg>
</div></body></html>
